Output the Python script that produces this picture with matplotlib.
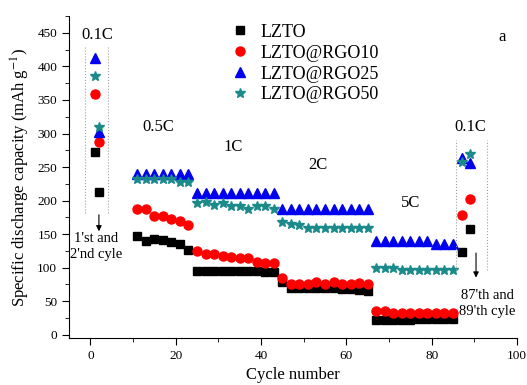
import matplotlib.pyplot as plt
from matplotlib.ticker import MultipleLocator

plt.rcParams['font.family'] = ['Liberation Serif', 'DejaVu Serif']
plt.rcParams['mathtext.fontset'] = 'stix'

# cycle numbers at which capacity was recorded (0.1C, 0.5C, 1C, 2C, 5C, 0.1C)
cycles = [1, 2,
          11, 13, 15, 17, 19, 21, 23,
          25, 27, 29, 31, 33, 35, 37, 39, 41, 43,
          45, 47, 49, 51, 53, 55, 57, 59, 61, 63, 65,
          67, 69, 71, 73, 75, 77, 79, 81, 83, 85,
          87, 89]

lzto = [273, 213,
        147, 140, 142, 141, 138, 135, 127,
        95, 95, 95, 95, 95, 95, 95, 95, 93, 93,
        79, 69, 69, 69, 69, 69, 69, 68, 68, 66, 65,
        22, 22, 22, 22, 22, 23, 23, 23, 23, 23,
        124, 157]

rgo10 = [359, 288,
         188, 187, 177, 177, 172, 169, 163,
         125, 121, 120, 118, 116, 115, 115, 108, 107, 107,
         84, 75, 75, 76, 78, 76, 78, 76, 76, 77, 76,
         35, 35, 33, 33, 33, 33, 33, 33, 33, 33,
         179, 202]

rgo25 = [412, 302,
         239, 239, 239, 239, 239, 239, 239,
         212, 212, 212, 212, 212, 212, 212, 212, 212, 212,
         187, 187, 187, 187, 187, 187, 187, 187, 187, 187, 187,
         139, 139, 139, 139, 139, 139, 139, 135, 135, 135,
         263, 256]

rgo50 = [386, 309,
         232, 232, 232, 232, 232, 227, 227,
         197, 198, 194, 196, 192, 192, 188, 192, 192, 188,
         168, 165, 164, 159, 159, 159, 159, 159, 159, 159, 159,
         100, 100, 100, 97, 97, 97, 97, 97, 97, 97,
         257, 269]

series_names = ['LZTO', 'LZTO@RGO10', 'LZTO@RGO25', 'LZTO@RGO50']

# rate labels: text, x, y
rate_labels = [('0.1C', 1.7, 447), ('0.5C', 16, 310), ('1C', 33.5, 280),
               ('2C', 53.4, 253), ('5C', 75, 196), ('0.1C', 89, 309)]

fig = plt.figure(figsize=(5.27, 3.85), dpi=100)
ax = fig.add_axes([0.131, 0.122, 0.85, 0.836])

ax.plot(cycles, lzto, 's', color='black', ms=5.5, ls='none', label=series_names[0])
ax.plot(cycles, rgo10, 'o', color='#ff0000', ms=6.5, ls='none', label=series_names[1])
ax.plot(cycles, rgo25, '^', color='#0000ee', ms=7, ls='none', label=series_names[2])
ax.plot(cycles, rgo50, '*', color='#1b8a8a', ms=7.5, ls='none', label=series_names[3])

# dotted boxes around the 0.1C cycles
for xv in (-1.2, 4.2):
    ax.plot([xv, xv], [181, 430], ls=':', color='#a0a0a0', lw=0.8)
for xv in (85.6, 92.9):
    ax.plot([xv, xv], [96, 290], ls=':', color='#a0a0a0', lw=0.8)

# arrows and notes
ax.annotate('', xy=(2, 150), xytext=(2, 183),
            arrowprops=dict(arrowstyle='-|>', color='black', lw=0.8, mutation_scale=8))
ax.text(1.4, 143, "1'st and", ha='center', va='center', fontsize=10.5)
ax.text(1.4, 120, "2'nd cyle", ha='center', va='center', fontsize=10.5)

ax.annotate('', xy=(90.4, 81), xytext=(90.4, 126),
            arrowprops=dict(arrowstyle='-|>', color='black', lw=0.8, mutation_scale=8))
ax.text(93, 59, "87'th and", ha='center', va='center', fontsize=10.5)
ax.text(93, 35, "89'th cyle", ha='center', va='center', fontsize=10.5)

for txt, xv, yv in rate_labels:
    ax.text(xv, yv, txt, ha='center', va='center', fontsize=12)
ax.text(96.5, 444, 'a', ha='center', va='center', fontsize=12)

ax.set_xlim(-5, 100)
ax.set_ylim(-5, 475)
ax.xaxis.set_major_locator(MultipleLocator(20))
ax.xaxis.set_minor_locator(MultipleLocator(10))
ax.yaxis.set_major_locator(MultipleLocator(50))
ax.yaxis.set_minor_locator(MultipleLocator(25))
ax.tick_params(which='major', direction='out', length=5, labelsize=9.5)
ax.tick_params(which='minor', direction='out', length=3)
ax.spines['top'].set_visible(False)
ax.spines['right'].set_visible(False)

ax.set_xlabel('Cycle number', fontsize=12, labelpad=4)
ax.set_ylabel('Specific discharge capacity (mAh g$^{-1}$)', fontsize=12)

ax.legend(loc='upper left', bbox_to_anchor=(0.362, 0.977), frameon=False,
          fontsize=13, handlelength=1.0, handletextpad=0.6, labelspacing=0.22,
          borderpad=0, borderaxespad=0)

fig.savefig('out.png', dpi=100)
